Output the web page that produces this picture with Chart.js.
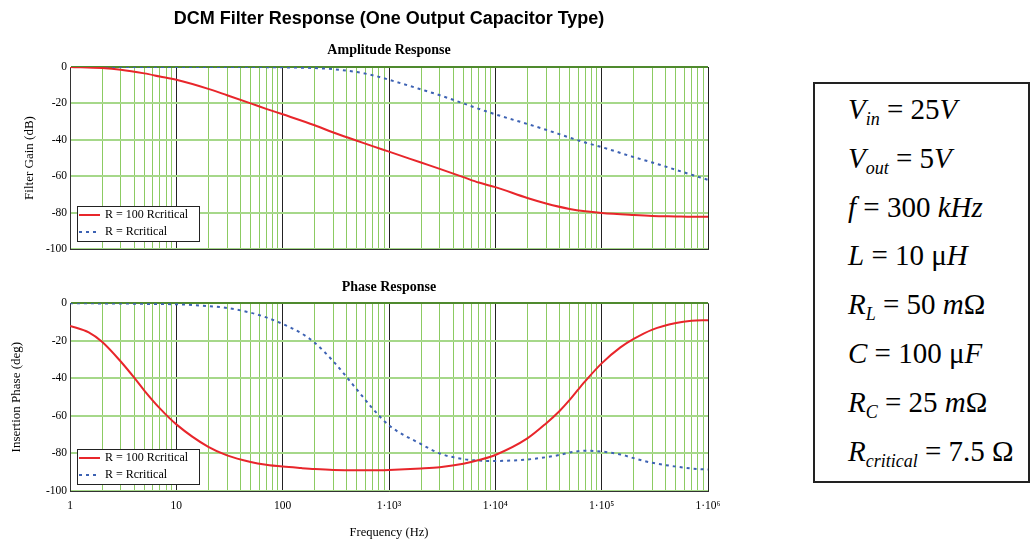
<!DOCTYPE html>
<html>
<head>
<meta charset="utf-8">
<script src="https://cdn.jsdelivr.net/npm/chart.js@4.4.1/dist/chart.umd.min.js"></script>
<style>
  body { margin:0; background:#fff; width:1032px; height:541px; overflow:hidden; position:relative; font-family:"Liberation Serif", serif; }
  canvas { position:absolute; left:0; }
  #ampChart { top:0; }
  #phaseChart { top:265px; }
  #params { position:absolute; left:813px; top:82px; width:217px; height:401px; box-sizing:border-box; border:2px solid #222; }
  #paramText { position:absolute; left:848px; top:85px; font-size:29px; white-space:nowrap; color:#000; }
  #paramText div { height:48.8px; line-height:48.8px; }
  .s { font-size:18px; line-height:0; position:relative; top:6px; font-style:italic; }
</style>
</head>
<body>
<canvas id="ampChart" width="740" height="261"></canvas>
<canvas id="phaseChart" width="740" height="276"></canvas>
<div id="params"></div>
<div id="paramText">
  <div><i>V</i><span class="s">in</span> = 25<i>V</i></div>
  <div><i>V</i><span class="s">out</span> = 5<i>V</i></div>
  <div><i>f</i> = 300 <i>kHz</i></div>
  <div><i>L</i> = 10 μ<i>H</i></div>
  <div><i>R</i><span class="s">L</span> = 50 <i>m</i>Ω</div>
  <div><i>C</i> = 100 μ<i>F</i></div>
  <div><i>R</i><span class="s">C</span> = 25 <i>m</i>Ω</div>
  <div><i>R</i><span class="s">critical</span> = 7.5 Ω</div>
</div>
<script>
// frequency axis (Hz)
const decades = [1, 10, 100, 1e3, 1e4, 1e5, 1e6];
const decadeLabels = ['1', '10', '100', '1·10³', '1·10⁴', '1·10⁵', '1·10⁶'];

const seriesNames = ['R = 100 Rcritical', 'R = Rcritical'];

// amplitude response (dB)
const ampFreq = [1, 2, 3, 5, 7, 10, 20, 30, 50, 70, 100, 200, 300, 500, 700,
  1e3, 2e3, 3e3, 5e3, 7e3, 1e4, 2e4, 3e4, 5e4, 7e4, 1e5, 2e5, 3e5, 5e5, 7e5, 1e6];
const ampHighR = [0, -0.6, -1.5, -3.5, -5.2, -7, -12, -15.5, -20, -23, -26, -32, -36, -40.5, -43.5,
  -46.5, -52.5, -56, -60.5, -63.5, -66, -72, -75, -78, -79.3, -80.2, -81.3, -81.8, -82.1, -82.3, -82.3];
const ampCritR = [0, 0, 0, 0, 0, 0, 0, 0, 0, -0.1, -0.2, -0.6, -1.2, -2.8, -4.5,
  -7, -12.3, -15.5, -20, -23, -26, -31.3, -34.5, -38.8, -41.5, -44, -49.5, -52.5, -56.5, -59.2, -62];

// phase response (deg)
const phaseFreq = [1, 1.5, 2, 3, 4, 5, 7, 10, 20, 30, 50, 70, 100, 150, 200, 300, 500, 700,
  1e3, 2e3, 3e3, 5e3, 7e3, 1e4, 2e4, 3e4, 4e4, 5e4, 6e4, 7e4, 1e5, 1.5e5, 2e5, 3e5, 5e5, 7e5, 1e6];
const phaseHighR = [-12, -15.5, -20.5, -31, -39.5, -46.5, -56, -64.5, -76.5, -81, -84.5, -86, -87, -87.8, -88.3, -88.8, -89, -89,
  -88.8, -88, -87.3, -85.5, -83.5, -80.8, -72, -64, -57.5, -51.5, -46, -41.5, -32, -23.5, -19, -14, -10.5, -9.3, -9];
const phaseCritR = [0, 0, -0.1, -0.1, -0.2, -0.3, -0.4, -0.5, -1.5, -2.5, -5, -7.5, -11, -16, -21, -31, -46, -56,
  -65, -75, -80, -83, -83.8, -84, -83.2, -82, -80.8, -79.5, -78.8, -78.5, -79, -80.5, -82.5, -85, -87, -88, -88.6];

// every 1..9 x 10^n for the grid
const gridTicks = [];
decades.forEach((d, i) => {
  if (i === decades.length - 1) { gridTicks.push(d); return; }
  for (let k = 1; k <= 9; k++) gridTicks.push(k * d);
});

const isDecade = v => Math.abs(Math.log10(v) - Math.round(Math.log10(v))) < 1e-9;

const boxLegend = {
  id: 'boxLegend',
  afterDatasetsDraw(chart, args, opts) {
    const { ctx, chartArea } = chart;
    const x = chartArea.left + 7, y = chartArea.bottom - opts.dy;
    ctx.save();
    ctx.fillStyle = '#fff';
    ctx.fillRect(x, y, 122, 35);
    ctx.strokeStyle = '#222';
    ctx.lineWidth = 1;
    ctx.strokeRect(x + 0.5, y + 0.5, 122, 35);
    chart.data.datasets.forEach((ds, i) => {
      const ly = y + 9 + i * 17;
      ctx.strokeStyle = ds.borderColor;
      ctx.lineWidth = ds.borderWidth;
      ctx.setLineDash(ds.borderDash || []);
      ctx.beginPath();
      ctx.moveTo(x + 2, ly);
      ctx.lineTo(x + 23, ly);
      ctx.stroke();
      ctx.setLineDash([]);
      ctx.fillStyle = '#000';
      ctx.font = '12px "Liberation Serif"';
      ctx.textBaseline = 'middle';
      ctx.fillText(ds.label, x + 28, ly);
    });
    ctx.restore();
  }
};

function makeDatasets(freq, a, b) {
  return [
    { label: seriesNames[0], data: freq.map((f, i) => ({ x: f, y: a[i] })),
      borderColor: '#e8262b', borderWidth: 2, pointRadius: 0, cubicInterpolationMode: 'monotone' },
    { label: seriesNames[1], data: freq.map((f, i) => ({ x: f, y: b[i] })),
      borderColor: '#3d62b3', borderWidth: 2, borderDash: [3, 4], pointRadius: 0, cubicInterpolationMode: 'monotone' }
  ];
}

function xScale(showLabels, axisHeight) {
  return {
    type: 'logarithmic', min: 1, max: 1e6,
    afterBuildTicks: axis => { axis.ticks = gridTicks.map(v => ({ value: v })); },
    afterFit: s => { s.height = axisHeight; },
    grid: { drawTicks: false, lineWidth: 1, color: c => isDecade(c.tick.value) ? '#222' : '#8ccb62' },
    border: { color: '#333' },
    ticks: {
      display: showLabels, autoSkip: false, maxRotation: 0, padding: 8, color: '#000',
      font: { family: 'Liberation Serif', size: 11.5 },
      callback: v => { const i = decades.indexOf(v); return i >= 0 ? decadeLabels[i] : ''; }
    },
    title: { display: showLabels, text: 'Frequency (Hz)', color: '#000',
      font: { family: 'Liberation Serif', size: 12.5 }, padding: { top: 0, bottom: 1 } }
  };
}

function yScale(title, titlePad) {
  return {
    min: -100, max: 0,
    afterFit: s => { s.width = 70; },
    grid: { drawTicks: false, lineWidth: 2, color: c => c.tick.value === 0 ? '#4f8a2e' : '#a6d88a' },
    border: { color: '#333' },
    ticks: { stepSize: 20, padding: 3, color: '#000', font: { family: 'Liberation Serif', size: 11.5 } },
    title: { display: true, text: title, color: '#000',
      font: { family: 'Liberation Serif', size: 13 }, padding: { top: titlePad, bottom: 0 } }
  };
}

new Chart(document.getElementById('ampChart'), {
  type: 'line',
  data: { datasets: makeDatasets(ampFreq, ampHighR, ampCritR) },
  options: {
    responsive: false, animation: false,
    layout: { padding: { top: 0, right: 32, bottom: 0, left: 0 } },
    plugins: {
      legend: { display: false }, tooltip: { enabled: false },
      title: { display: true, text: 'DCM Filter Response (One Output Capacitor Type)', color: '#000', fullSize: false,
        font: { family: 'Liberation Sans', size: 18, weight: 'bold' }, padding: { top: 8, bottom: 0 } },
      subtitle: { display: true, text: 'Amplitude Response', color: '#000', fullSize: false,
        font: { family: 'Liberation Serif', size: 14, weight: 'bold' }, padding: { top: 12, bottom: 8.6 } },
      boxLegend: { dy: 43 }
    },
    scales: { x: xScale(false, 12), y: yScale('Filter Gain (dB)', 22) }
  },
  plugins: [boxLegend]
});

new Chart(document.getElementById('phaseChart'), {
  type: 'line',
  data: { datasets: makeDatasets(phaseFreq, phaseHighR, phaseCritR) },
  options: {
    responsive: false, animation: false,
    layout: { padding: { top: 0, right: 32, bottom: 0, left: 0 } },
    plugins: {
      legend: { display: false }, tooltip: { enabled: false },
      title: { display: true, text: 'Phase Response', color: '#000', fullSize: false,
        font: { family: 'Liberation Serif', size: 14, weight: 'bold' }, padding: { top: 13.6, bottom: 7.9 } },
      boxLegend: { dy: 42 }
    },
    scales: { x: xScale(true, 50), y: yScale('Insertion Phase (deg)', 9) }
  },
  plugins: [boxLegend]
});
</script>
</body>
</html>
